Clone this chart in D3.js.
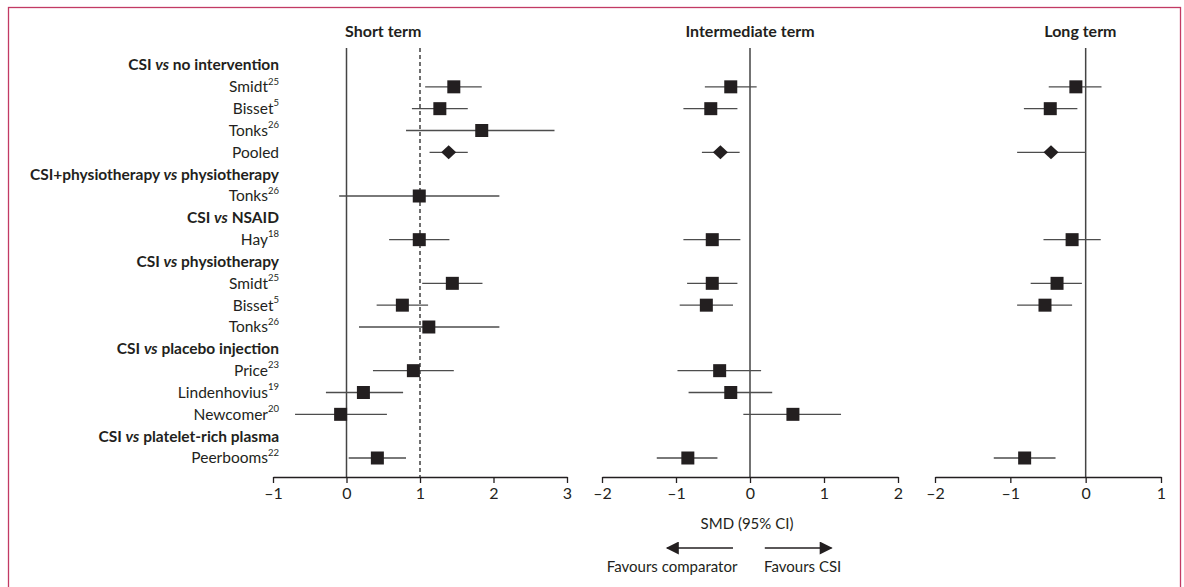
<!DOCTYPE html>
<html>
<head>
<meta charset="utf-8">
<script src="https://cdn.jsdelivr.net/npm/d3@7"></script>
<style>
  body { margin: 0; background: #fff; }
  text { font-family: Lato, "Open Sans", sans-serif; fill: #231f20; }
</style>
</head>
<body>
<svg id="chart" width="1184" height="587"></svg>
<script>
// rows, top to bottom
var rowLabels = ["CSI vs no intervention", "Smidt", "Bisset", "Tonks", "Pooled",
  "CSI+physiotherapy vs physiotherapy", "Tonks", "CSI vs NSAID", "Hay",
  "CSI vs physiotherapy", "Smidt", "Bisset", "Tonks", "CSI vs placebo injection",
  "Price", "Lindenhovius", "Newcomer", "CSI vs platelet-rich plasma", "Peerbooms"];
var rowRefs = ["", "25", "5", "26", "", "", "26", "", "18", "", "25", "5", "26", "", "23", "19", "20", "", "22"];
var rowKinds = ["group", "study", "study", "study", "pooled", "group", "study", "group", "study",
  "group", "study", "study", "study", "group", "study", "study", "study", "group", "study"];

// SMD and 95% CI per time point (null = no estimate)
var shortEst = [null, 1.46, 1.27, 1.84, 1.39, null, 0.99, null, 0.99, null, 1.44, 0.76, 1.12, null, 0.91, 0.23, -0.08, null, 0.42];
var shortLo  = [null, 1.07, 0.89, 0.81, 1.13, null, -0.10, null, 0.58, null, 1.03, 0.41, 0.17, null, 0.36, -0.28, -0.70, null, 0.03];
var shortHi  = [null, 1.84, 1.65, 2.83, 1.65, null, 2.08, null, 1.40, null, 1.85, 1.11, 2.08, null, 1.46, 0.77, 0.55, null, 0.81];

var interEst = [null, -0.26, -0.53, null, -0.40, null, null, null, -0.51, null, -0.51, -0.59, null, null, -0.41, -0.26, 0.58, null, -0.84];
var interLo  = [null, -0.61, -0.90, null, -0.65, null, null, null, -0.90, null, -0.85, -0.95, null, null, -0.98, -0.83, -0.09, null, -1.26];
var interHi  = [null, 0.09, -0.17, null, -0.14, null, null, null, -0.13, null, -0.17, -0.23, null, null, 0.15, 0.30, 1.23, null, -0.44];

var longEst = [null, -0.13, -0.47, null, -0.46, null, null, null, -0.18, null, -0.38, -0.54, null, null, null, null, null, null, -0.81];
var longLo  = [null, -0.49, -0.82, null, -0.91, null, null, null, -0.56, null, -0.73, -0.91, null, null, null, null, null, null, -1.22];
var longHi  = [null, 0.21, -0.11, null, 0.00, null, null, null, 0.20, null, -0.05, -0.18, null, null, null, null, null, null, -0.40];

var panelTitles = ["Short term", "Intermediate term", "Long term"];
var shortTicks = [-1, 0, 1, 2, 3];
var interTicks = [-2, -1, 0, 1, 2];
var longTicks = [-2, -1, 0, 1];

var svg = d3.select("#chart"),
    ink = "#231f20",
    ciGrey = "#4d4d4d",
    axisY = 477,
    topY = 48;

// frame
svg.append("rect")
    .attr("x", 8.5).attr("y", 7.5)
    .attr("width", 1172).attr("height", 600)
    .attr("fill", "none")
    .attr("stroke", "#c23a64")
    .attr("stroke-width", 1.3);

var y = d3.scalePoint()
    .domain(d3.range(rowLabels.length))
    .range([65, 458]);

var panels = [
    {title: panelTitles[0], titleAt: 0.5, est: shortEst, lo: shortLo, hi: shortHi, ticks: shortTicks,
     x: d3.scaleLinear().domain([-1, 3]).range([273, 567]), ref: 1},
    {title: panelTitles[1], titleAt: 0, est: interEst, lo: interLo, hi: interHi, ticks: interTicks,
     x: d3.scaleLinear().domain([-2, 2]).range([602, 898])},
    {title: panelTitles[2], titleAt: -0.07, est: longEst, lo: longLo, hi: longHi, ticks: longTicks,
     x: d3.scaleLinear().domain([-2, 1]).range([935, 1161])}
];

// row labels
var labels = svg.append("g").selectAll("text")
    .data(rowLabels)
    .enter().append("text")
        .attr("x", 279)
        .attr("y", function(d, i) { return y(i); })
        .attr("dy", "0.35em")
        .attr("text-anchor", "end")
        .attr("font-size", 15.5)
        .attr("font-weight", function(d, i) { return rowKinds[i] == "group" ? "bold" : "normal"; });

labels.each(function(d, i) {
    var t = d3.select(this);
    if (rowKinds[i] == "group") {
        var parts = d.split(" vs ");
        t.append("tspan").text(parts[0] + " ");
        t.append("tspan").attr("font-style", "italic").text("vs");
        t.append("tspan").text(" " + parts[1]);
    } else {
        t.append("tspan").text(d);
        if (rowRefs[i]) {
            t.append("tspan").attr("font-size", 9.5).attr("dy", "-0.8em").text(rowRefs[i]);
        }
    }
});

panels.forEach(function(p) {
    var g = svg.append("g"),
        x = p.x;

    g.append("text")
        .attr("x", x(p.titleAt))
        .attr("y", 31)
        .attr("dy", "0.35em")
        .attr("text-anchor", "middle")
        .attr("font-size", 16)
        .attr("font-weight", "bold")
        .text(p.title);

    // no-effect line
    g.append("line")
        .attr("x1", x(0)).attr("x2", x(0))
        .attr("y1", topY).attr("y2", axisY)
        .attr("stroke", "#444")
        .attr("stroke-width", 1.5);

    if (p.ref != null) {
        g.append("line")
            .attr("x1", x(p.ref)).attr("x2", x(p.ref))
            .attr("y1", topY).attr("y2", axisY)
            .attr("stroke", "#333")
            .attr("stroke-width", 1.4)
            .attr("stroke-dasharray", "4,3");
    }

    var axis = g.append("g")
        .attr("transform", "translate(0," + axisY + ")")
        .call(d3.axisBottom(x).tickValues(p.ticks).tickSize(6).tickSizeOuter(0)
            .tickFormat(function(d) { return d < 0 ? "\u2013" + Math.abs(d) : d; }));
    axis.select(".domain").attr("stroke", ink).attr("stroke-width", 1.4);
    axis.selectAll(".tick line").attr("stroke", ink).attr("stroke-width", 1.3);
    axis.selectAll(".tick text")
        .attr("font-family", "Lato, sans-serif")
        .attr("font-size", 16)
        .attr("fill", ink)
        .attr("y", 11)
        .attr("dy", "0.71em");

    var rows = d3.range(rowLabels.length).filter(function(i) { return p.est[i] != null; });

    g.selectAll("line.ci")
        .data(rows)
        .enter().append("line")
            .attr("class", "ci")
            .attr("x1", function(i) { return x(p.lo[i]); })
            .attr("x2", function(i) { return x(p.hi[i]); })
            .attr("y1", function(i) { return y(i); })
            .attr("y2", function(i) { return y(i); })
            .attr("stroke", ciGrey)
            .attr("stroke-width", 1.4);

    g.selectAll("rect.est")
        .data(rows.filter(function(i) { return rowKinds[i] == "study"; }))
        .enter().append("rect")
            .attr("class", "est")
            .attr("x", function(i) { return x(p.est[i]) - 6.5; })
            .attr("y", function(i) { return y(i) - 6.5; })
            .attr("width", 13)
            .attr("height", 13)
            .attr("fill", ink);

    g.selectAll("path.pooled")
        .data(rows.filter(function(i) { return rowKinds[i] == "pooled"; }))
        .enter().append("path")
            .attr("class", "pooled")
            .attr("d", function(i) {
                var cx = x(p.est[i]), cy = y(i);
                return "M" + (cx - 7.5) + "," + cy + "L" + cx + "," + (cy - 7) +
                       "L" + (cx + 7.5) + "," + cy + "L" + cx + "," + (cy + 7) + "Z";
            })
            .attr("fill", ink);
});

// x-axis caption and direction arrows under the middle panel
var xm = panels[1].x;
svg.append("text")
    .attr("x", xm(0) - 3).attr("y", 524)
    .attr("dy", "0.35em")
    .attr("text-anchor", "middle")
    .attr("font-size", 15)
    .text("SMD (95% CI)");

var defs = svg.append("defs");
defs.append("marker")
    .attr("id", "head")
    .attr("viewBox", "0 0 10 10")
    .attr("refX", 9).attr("refY", 5)
    .attr("markerWidth", 14).attr("markerHeight", 13)
    .attr("markerUnits", "userSpaceOnUse")
    .attr("orient", "auto")
  .append("path")
    .attr("d", "M0,0L10,5L0,10Z")
    .attr("fill", ink);

svg.append("line")
    .attr("x1", xm(-0.23)).attr("x2", xm(-1.12))
    .attr("y1", 548).attr("y2", 548)
    .attr("stroke", ink).attr("stroke-width", 1.6)
    .attr("marker-end", "url(#head)");
svg.append("line")
    .attr("x1", xm(0.2)).attr("x2", xm(1.1))
    .attr("y1", 548).attr("y2", 548)
    .attr("stroke", ink).attr("stroke-width", 1.6)
    .attr("marker-end", "url(#head)");

svg.append("text")
    .attr("x", xm(-0.17)).attr("y", 567)
    .attr("dy", "0.35em")
    .attr("text-anchor", "end")
    .attr("font-size", 15)
    .text("Favours comparator");
svg.append("text")
    .attr("x", xm(0.19)).attr("y", 567)
    .attr("dy", "0.35em")
    .attr("text-anchor", "start")
    .attr("font-size", 15)
    .text("Favours CSI");
</script>
</body>
</html>
